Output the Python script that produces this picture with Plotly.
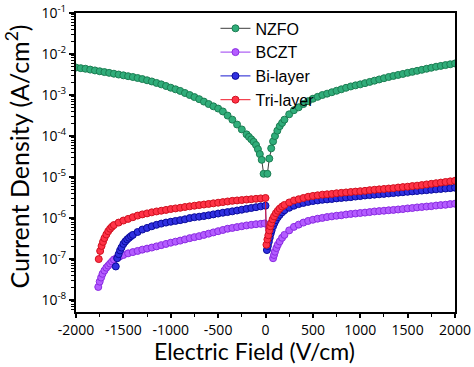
import plotly.graph_objects as go

# ---------------- data (Electric field in V/cm, current density in A/cm^2) ----------------
nzfo_e = [-2000, -1950, -1900, -1850, -1800, -1750, -1700, -1650, -1600, -1550, -1500, -1450,
          -1400, -1350, -1300, -1250, -1200, -1150, -1100, -1050, -1000, -950, -900, -850,
          -800, -750, -700, -650, -600, -550, -500, -450, -400, -350, -300, -250, -200, -175,
          -150, -125, -100, -80, -60, -40, -20,
          20, 40, 60, 80, 100, 125, 150, 175, 200, 250, 300, 350, 400, 450, 500, 550, 600, 650,
          700, 750, 800, 850, 900, 950, 1000, 1050, 1100, 1150, 1200, 1250, 1300, 1350, 1400,
          1450, 1500, 1550, 1600, 1650, 1700, 1750, 1800, 1850, 1900, 1950, 2000]
nzfo_j = [4.68e-3, 4.52e-3, 4.37e-3, 4.17e-3, 3.98e-3, 3.80e-3, 3.63e-3, 3.47e-3, 3.31e-3, 3.16e-3,
          3.02e-3, 2.88e-3, 2.75e-3, 2.60e-3, 2.45e-3, 2.29e-3, 2.14e-3, 1.97e-3, 1.82e-3, 1.66e-3,
          1.51e-3, 1.38e-3, 1.26e-3, 1.12e-3, 1.00e-3, 8.91e-4, 7.94e-4, 6.92e-4, 6.03e-4, 5.31e-4,
          4.68e-4, 3.98e-4, 3.16e-4, 2.51e-4, 1.91e-4, 1.45e-4, 1.10e-4, 9.55e-5, 8.32e-5, 7.24e-5,
          6.03e-5, 4.79e-5, 3.63e-5, 2.63e-5, 1.20e-5,
          1.20e-5, 2.82e-5, 5.01e-5, 7.41e-5, 1.00e-4, 1.35e-4, 1.74e-4, 2.09e-4, 2.51e-4, 3.39e-4,
          4.27e-4, 5.01e-4, 6.03e-4, 7.08e-4, 8.13e-4, 9.02e-4, 1.00e-3, 1.08e-3, 1.17e-3, 1.27e-3,
          1.38e-3, 1.50e-3, 1.62e-3, 1.72e-3, 1.82e-3, 1.95e-3, 2.09e-3, 2.24e-3, 2.40e-3, 2.57e-3,
          2.75e-3, 2.92e-3, 3.09e-3, 3.27e-3, 3.47e-3, 3.67e-3, 3.89e-3, 4.12e-3, 4.37e-3, 4.62e-3,
          4.90e-3, 5.13e-3, 5.37e-3, 5.62e-3, 5.89e-3]

bczt_e = [-1765, -1750, -1735, -1720, -1700, -1680, -1660, -1640, -1620, -1600, -1570, -1540,
          -1500, -1450, -1400, -1350, -1300, -1250, -1200, -1150, -1100, -1050, -1000, -950,
          -900, -850, -800, -750, -700, -650, -600, -550, -500, -450, -400, -350, -300, -250,
          -200, -150, -100, -50, -10,
          80, 90, 100, 115, 130, 150, 175, 200, 250, 300, 350, 400, 450, 500, 550, 600, 650, 700,
          750, 800, 850, 900, 950, 1000, 1050, 1100, 1150, 1200, 1250, 1300, 1350, 1400, 1450,
          1500, 1550, 1600, 1650, 1700, 1750, 1800, 1850, 1900, 1950, 2000]
bczt_j = [2.09e-8, 2.82e-8, 3.55e-8, 4.37e-8, 5.25e-8, 6.17e-8, 6.92e-8, 7.76e-8, 8.71e-8, 9.77e-8,
          1.07e-7, 1.15e-7, 1.26e-7, 1.38e-7, 1.48e-7, 1.58e-7, 1.70e-7, 1.80e-7, 1.91e-7, 2.04e-7,
          2.19e-7, 2.34e-7, 2.51e-7, 2.66e-7, 2.82e-7, 3.02e-7, 3.24e-7, 3.43e-7, 3.63e-7, 3.89e-7,
          4.17e-7, 4.47e-7, 4.79e-7, 5.13e-7, 5.50e-7, 5.75e-7, 6.03e-7, 6.31e-7, 6.61e-7, 6.84e-7,
          7.08e-7, 7.24e-7, 7.41e-7,
          1.05e-7, 1.26e-7, 1.51e-7, 1.86e-7, 2.24e-7, 2.69e-7, 3.31e-7, 3.89e-7, 5.01e-7, 6.10e-7,
          6.92e-7, 7.76e-7, 8.51e-7, 9.12e-7, 9.66e-7, 1.01e-6, 1.06e-6, 1.10e-6, 1.14e-6, 1.17e-6,
          1.22e-6, 1.26e-6, 1.29e-6, 1.33e-6, 1.36e-6, 1.40e-6, 1.45e-6, 1.48e-6, 1.51e-6, 1.55e-6,
          1.58e-6, 1.62e-6, 1.66e-6, 1.72e-6, 1.76e-6, 1.82e-6, 1.86e-6, 1.91e-6, 1.95e-6, 2.02e-6,
          2.07e-6, 2.11e-6, 2.19e-6, 2.24e-6]

bi_e = [-1580, -1565, -1550, -1535, -1520, -1500, -1480, -1460, -1440, -1420, -1400, -1350,
        -1300, -1250, -1200, -1150, -1100, -1050, -1000, -950, -900, -850, -800, -750, -700,
        -650, -600, -550, -500, -450, -400, -350, -300, -250, -200, -150, -100, -50, 0,
        15, 25, 35, 45, 55, 65, 80, 95, 110, 130, 150, 175, 200, 250, 300, 350, 400, 450, 500,
        550, 600, 650, 700, 750, 800, 850, 900, 950, 1000, 1050, 1100, 1150, 1200, 1250, 1300,
        1350, 1400, 1450, 1500, 1550, 1600, 1650, 1700, 1750, 1800, 1850, 1900, 1950, 2000]
bi_j = [6.61e-8, 1.05e-7, 1.32e-7, 1.62e-7, 1.91e-7, 2.34e-7, 2.69e-7, 3.02e-7, 3.31e-7, 3.63e-7,
        3.89e-7, 4.57e-7, 5.25e-7, 5.75e-7, 6.31e-7, 6.84e-7, 7.33e-7, 7.76e-7, 8.13e-7, 8.51e-7,
        8.91e-7, 9.33e-7, 1.00e-6, 1.05e-6, 1.08e-6, 1.12e-6, 1.17e-6, 1.23e-6, 1.29e-6, 1.35e-6,
        1.40e-6, 1.46e-6, 1.53e-6, 1.60e-6, 1.68e-6, 1.76e-6, 1.84e-6, 1.93e-6, 2.00e-6,
        1.66e-7, 2.09e-7, 2.63e-7, 3.31e-7, 4.17e-7, 5.01e-7, 6.31e-7, 7.59e-7, 8.91e-7, 1.05e-6,
        1.20e-6, 1.38e-6, 1.55e-6, 1.78e-6, 2.00e-6, 2.19e-6, 2.34e-6, 2.48e-6, 2.60e-6, 2.69e-6,
        2.79e-6, 2.85e-6, 2.92e-6, 3.02e-6, 3.09e-6, 3.16e-6, 3.24e-6, 3.35e-6, 3.43e-6, 3.55e-6,
        3.63e-6, 3.72e-6, 3.80e-6, 3.89e-6, 3.98e-6, 4.07e-6, 4.17e-6, 4.27e-6, 4.37e-6, 4.47e-6,
        4.57e-6, 4.68e-6, 4.79e-6, 4.90e-6, 5.01e-6, 5.13e-6, 5.25e-6, 5.37e-6, 5.50e-6]

tri_e = [-1760, -1745, -1730, -1715, -1700, -1680, -1660, -1640, -1620, -1600, -1550, -1500,
         -1450, -1400, -1350, -1300, -1250, -1200, -1150, -1100, -1050, -1000, -950, -900, -850,
         -800, -750, -700, -650, -600, -550, -500, -450, -400, -350, -300, -250, -200, -150,
         -100, -50, 0,
         10, 20, 30, 40, 50, 60, 75, 90, 110, 130, 150, 175, 200, 250, 300, 350, 400, 450, 500,
         550, 600, 650, 700, 750, 800, 850, 900, 950, 1000, 1050, 1100, 1150, 1200, 1250, 1300,
         1350, 1400, 1450, 1500, 1550, 1600, 1650, 1700, 1750, 1800, 1850, 1900, 1950, 2000]
tri_j = [1.00e-7, 1.58e-7, 2.09e-7, 2.63e-7, 3.24e-7, 3.98e-7, 4.79e-7, 5.50e-7, 6.17e-7, 6.76e-7,
         7.76e-7, 8.71e-7, 9.55e-7, 1.05e-6, 1.15e-6, 1.23e-6, 1.30e-6, 1.38e-6, 1.45e-6, 1.51e-6,
         1.58e-6, 1.66e-6, 1.72e-6, 1.78e-6, 1.86e-6, 1.93e-6, 2.00e-6, 2.07e-6, 2.14e-6, 2.21e-6,
         2.29e-6, 2.37e-6, 2.45e-6, 2.54e-6, 2.63e-6, 2.69e-6, 2.75e-6, 2.82e-6, 2.88e-6, 2.95e-6,
         3.02e-6, 3.09e-6,
         2.24e-7, 3.02e-7, 3.80e-7, 5.01e-7, 6.31e-7, 7.59e-7, 9.33e-7, 1.10e-6, 1.32e-6, 1.51e-6,
         1.70e-6, 1.91e-6, 2.09e-6, 2.40e-6, 2.69e-6, 2.88e-6, 3.09e-6, 3.31e-6, 3.47e-6, 3.59e-6,
         3.72e-6, 3.80e-6, 3.89e-6, 4.03e-6, 4.12e-6, 4.22e-6, 4.32e-6, 4.42e-6, 4.52e-6, 4.62e-6,
         4.79e-6, 4.90e-6, 5.01e-6, 5.13e-6, 5.25e-6, 5.37e-6, 5.56e-6, 5.69e-6, 5.82e-6, 6.03e-6,
         6.17e-6, 6.38e-6, 6.61e-6, 6.84e-6, 7.08e-6, 7.33e-6, 7.59e-6, 7.85e-6, 8.13e-6]

series_names = ["NZFO", "BCZT", "Bi-layer", "Tri-layer"]
x_ticks = [-2000, -1500, -1000, -500, 0, 500, 1000, 1500, 2000]
y_tick_exps = [-8, -7, -6, -5, -4, -3, -2, -1]
x_title = "Electric Field (V/cm)"
y_title = "Current Density (A/cm<sup>2</sup>)"

# ---------------- styling ----------------
styles = [
    dict(fill="#30ad7a", edge="#1b7d52", line="#3c3c3c"),
    dict(fill="#b45cff", edge="#8a2be2", line="#9b3cf0"),
    dict(fill="#3030e0", edge="#0a0a9a", line="#1a1ad0"),
    dict(fill="#ff3347", edge="#d0101f", line="#f01828"),
]
data = [(nzfo_e, nzfo_j), (bczt_e, bczt_j), (bi_e, bi_j), (tri_e, tri_j)]

fig = go.Figure()
for name, (xe, yj), st in zip(series_names, data, styles):
    fig.add_trace(go.Scatter(
        x=xe, y=yj, name=name, mode="lines+markers",
        line=dict(color=st["line"], width=1),
        marker=dict(symbol="circle", size=7, color=st["fill"],
                    line=dict(color=st["edge"], width=1)),
    ))

axis_font = dict(family="Open Sans, sans-serif", size=14, color="black")
title_font = dict(family="Lato, sans-serif", color="black")
fig.update_layout(
    template="none",
    width=474, height=367,
    margin=dict(l=76, r=19, t=12, b=55, pad=0),
    paper_bgcolor="white", plot_bgcolor="white",
    showlegend=True,
    legend=dict(x=0.368, y=1.002, xanchor="left", yanchor="top",
                bgcolor="rgba(0,0,0,0)", borderwidth=0,
                font=dict(family="Liberation Sans, Arial, sans-serif", size=16, color="black"),
                itemwidth=30, tracegroupgap=0),
    xaxis=dict(
        automargin=False,
        range=[-2000, 2000], tickvals=x_ticks, ticktext=[str(v) for v in x_ticks],
        ticks="outside", ticklen=4, tickwidth=1.5, tickcolor="black",
        minor=dict(ticks="outside", ticklen=2.5, tickwidth=1.2, tickcolor="black", dtick=250,
                   showgrid=False),
        showline=True, linewidth=2, linecolor="black", mirror=True,
        showgrid=False, zeroline=False, tickfont=axis_font,
    ),
    yaxis=dict(
        automargin=False,
        type="log", range=[-8.29, -1],
        tickvals=[10.0 ** e for e in y_tick_exps],
        ticktext=["10<sup>%d</sup>" % e for e in y_tick_exps],
        ticks="outside", ticklen=5, tickwidth=1.5, tickcolor="black",
        minor=dict(ticks="outside", ticklen=3, tickwidth=1, tickcolor="black", dtick="D1",
                   showgrid=False),
        showline=True, linewidth=2, linecolor="black", mirror=True,
        showgrid=False, zeroline=False, tickfont=axis_font,
    ),
    annotations=[
        dict(text=x_title, xref="paper", yref="paper", x=0.472, y=-0.181,
             xanchor="center", yanchor="bottom", showarrow=False, borderpad=0,
             font=dict(size=23, **title_font)),
        dict(text=y_title, xref="paper", yref="paper", x=-0.153, y=0.52,
             xanchor="center", yanchor="middle", showarrow=False, textangle=-90,
             font=dict(size=25, **title_font)),
    ],
)

fig.write_html("out.html", config={"displayModeBar": False},
               post_script="document.body.style.margin='0px';")
